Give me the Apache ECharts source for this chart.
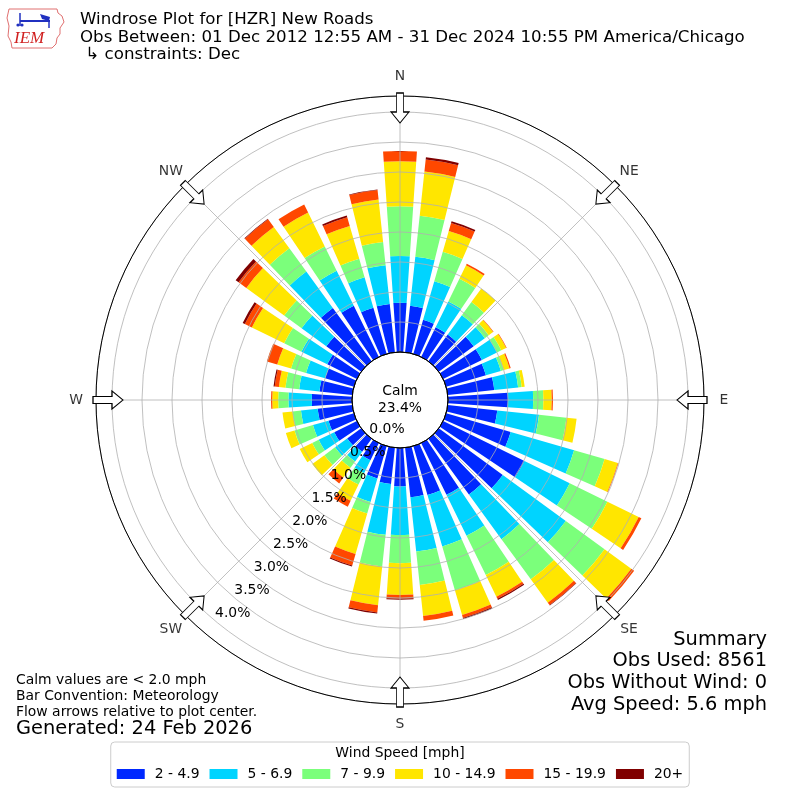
<!DOCTYPE html>
<html>
<head>
<meta charset="utf-8">
<script src="https://cdn.jsdelivr.net/npm/echarts@6/dist/echarts.min.js"></script>
<style>html,body{margin:0;padding:0;background:#fff}#c{width:800px;height:800px}</style>
</head>
<body>
<div id="c"></div>
<script>
// ---------- data ----------
const directions = [0,10,20,30,40,50,60,70,80,90,100,110,120,130,140,150,160,170,180,190,200,210,220,230,240,250,260,270,280,290,300,310,320,330,340,350];
const speedBins = ['2 - 4.9','5 - 6.9','7 - 9.9','10 - 14.9','15 - 19.9','20+'];
const binColors = ['#0028ff','#00d4ff','#7bff7b','#ffe600','#ff4800','#800000'];
const speed_2_5   = [0.82,0.78,0.59,0.55,0.55,0.72,0.72,0.69,0.78,1.00,0.83,1.12,1.51,1.32,1.15,0.96,0.85,0.83,0.64,0.61,0.56,0.32,0.27,0.29,0.42,0.44,0.58,0.67,0.55,0.50,0.55,0.72,1.10,0.95,0.80,0.81];
const speed_5_7   = [0.78,0.82,0.67,0.48,0.40,0.23,0.28,0.26,0.40,0.42,0.70,1.10,0.84,1.30,0.92,0.76,0.89,0.91,0.81,0.85,0.41,0.24,0.20,0.25,0.29,0.27,0.28,0.39,0.34,0.33,0.48,0.51,0.75,0.65,0.53,0.65];
const speed_7_10  = [0.83,0.69,0.51,0.42,0.27,0.08,0.08,0.05,0.06,0.17,0.46,0.53,0.70,0.80,0.83,0.73,0.76,0.56,0.47,0.53,0.20,0.21,0.13,0.22,0.12,0.32,0.14,0.17,0.23,0.26,0.32,0.36,0.48,0.45,0.32,0.39];
const speed_10_15 = [0.75,0.74,0.36,0.25,0.28,0.09,0.09,0.10,0.05,0.14,0.17,0.23,0.58,0.55,0.48,0.40,0.43,0.52,0.53,0.65,0.70,0.30,0.20,0.25,0.23,0.15,0.17,0.10,0.11,0.24,0.60,0.78,0.44,0.63,0.57,0.71];
const speed_15_20 = [0.17,0.20,0.14,0.03,0.00,0.01,0.01,0.02,0.00,0.02,0.00,0.01,0.05,0.06,0.05,0.04,0.05,0.08,0.06,0.12,0.20,0.11,0.12,0.00,0.00,0.00,0.00,0.02,0.07,0.18,0.13,0.16,0.16,0.15,0.15,0.16];
const speed_20up  = [0.00,0.04,0.03,0.00,0.00,0.00,0.00,0.00,0.00,0.00,0.00,0.00,0.00,0.00,0.01,0.02,0.02,0.00,0.02,0.02,0.02,0.00,0.00,0.00,0.00,0.00,0.00,0.00,0.02,0.00,0.04,0.06,0.01,0.00,0.03,0.01];
const radialTicks = [0,0.5,1.0,1.5,2.0,2.5,3.0,3.5,4.0];
const compassLabels = ['N','NE','E','SE','S','SW','W','NW'];
const compassAngles = [0,45,90,135,180,225,270,315];
const calmPct = 23.4;
const obsUsed = 8561, obsNoWind = 0, avgSpeed = 5.6;

// ---------- layout ----------
const FONT = 'DejaVu Sans';
const RMAX = 256 / 60;          // axis max so that 0..4.0% spans 48..288 px
const ARROW_R = 244 / 60;       // arrow centre radius (value units)
const seriesData = [speed_2_5, speed_5_7, speed_7_10, speed_10_15, speed_15_20, speed_20up];

const chart = echarts.init(document.getElementById('c'), null, {renderer: 'canvas'});

const barSeries = speedBins.map((name, i) => ({
  name: name,
  type: 'bar',
  coordinateSystem: 'polar',
  polarIndex: 0,
  stack: 'wind',
  barCategoryGap: '22%',
  itemStyle: {color: binColors[i]},
  data: seriesData[i],
  z: 2,
  silent: true
}));

const hidden = {axisLine:{show:false}, axisTick:{show:false}, axisLabel:{show:false}, splitLine:{show:false}};

const text = (x, y, t, size, align, extra) => Object.assign({
  type: 'text', x: x, y: y, silent: true,
  style: {text: t, fontFamily: FONT, fontSize: size, fill: '#000', align: align || 'left', verticalAlign: 'middle'}
}, extra || {});

const option = {
  animation: false,
  backgroundColor: '#fff',
  polar: [
    {center: [400, 400], radius: [48, 304]},     // bars
    {center: [400, 400], radius: [48, 304]},     // grid
    {center: [387, 429.5], radius: [0, 256]},    // radial tick labels
    {center: [400, 400], radius: [0, 48]}        // calm circle
  ],
  angleAxis: [
    Object.assign({polarIndex: 0, type: 'category', data: directions, startAngle: 95, clockwise: true}, hidden),
    {polarIndex: 1, type: 'value', min: 0, max: 360, interval: 45, startAngle: 90, clockwise: true, z: 10,
     axisLine: {show: true, lineStyle: {color: '#000', width: 1}},
     axisTick: {show: false}, axisLabel: {show: false},
     splitLine: {show: true, lineStyle: {color: '#b0b0b0', width: 0.8}}},
    Object.assign({polarIndex: 2, type: 'value', min: 0, max: 360, startAngle: 230, clockwise: true}, hidden),
    {polarIndex: 3, type: 'value', min: 0, max: 360, startAngle: 90, z: 11,
     axisLine: {show: true, lineStyle: {color: '#000', width: 1}},
     axisTick: {show: false}, axisLabel: {show: false}, splitLine: {show: false}}
  ],
  radiusAxis: [
    Object.assign({polarIndex: 0, type: 'value', min: 0, max: RMAX}, hidden),
    {polarIndex: 1, type: 'value', min: 0, max: RMAX, interval: 0.5, z: 10,
     axisLine: {show: false}, axisTick: {show: false}, axisLabel: {show: false},
     splitLine: {show: true, lineStyle: {color: '#b0b0b0', width: 0.8}}},
    {polarIndex: 2, type: 'value', min: 0, max: RMAX, interval: 0.5, z: 12,
     axisLine: {show: false}, axisTick: {show: false}, splitLine: {show: false},
     axisLabel: {show: true, margin: 0, align: 'center', verticalAlign: 'middle',
       fontFamily: FONT, fontSize: 13.9, color: '#000',
       formatter: v => {
         const t = radialTicks.find(k => Math.abs(k - v) < 1e-6);
         return t === undefined ? '' : t.toFixed(1) + '%';
       }}},
    Object.assign({polarIndex: 3, type: 'value', min: 0, max: 1}, hidden)
  ],
  legend: {
    data: speedBins, left: 'center', top: 742, orient: 'horizontal',
    icon: 'rect', itemWidth: 28, itemHeight: 10, itemGap: 10,
    padding: [25, 6, 6, 6], borderColor: '#cccccc', borderWidth: 1, borderRadius: 4,
    selectedMode: false,
    textStyle: {fontFamily: FONT, fontSize: 13.9, color: '#000', padding: [0, 0, 0, 5]}
  },
  series: barSeries.concat([
    {type: 'scatter', coordinateSystem: 'polar', polarIndex: 1, z: 20, silent: true,
     symbol: 'path://M-3.5,0L3.5,0L3.5,19L9,19L0,30L-9,19L-3.5,19Z', symbolSize: [18, 30],
     itemStyle: {color: '#fff', borderColor: '#000', borderWidth: 1, opacity: 1},
     data: compassAngles.map(a => ({value: [ARROW_R, a], symbolRotate: -a}))},
    {type: 'scatter', coordinateSystem: 'polar', polarIndex: 1, z: 21, silent: true,
     symbol: 'circle', symbolSize: 1, itemStyle: {color: 'rgba(0,0,0,0)'},
     data: compassAngles.map((a, i) => ({
       value: [ARROW_R, a],
       label: {show: true, position: 'inside', formatter: compassLabels[i],
         offset: [32 * Math.sin(a * Math.PI / 180), -32 * Math.cos(a * Math.PI / 180)],
         fontFamily: FONT, fontSize: 13.9, color: '#000'}
     }))}
  ]),
  graphic: [
    // IEM logo (simplified)
    {type: 'polyline', silent: true, shape: {points: [[9,9],[57,9],[58,13],[62,16],[64,22],[60,28],[60,34],[57,38],[56,44],[52,48],[12,48],[11,42],[8,36],[9,26],[7,18],[9,9]]},
     style: {stroke: '#e07070', lineWidth: 1, fill: null}},
    {type: 'line', silent: true, shape: {x1: 20, y1: 13, x2: 20, y2: 26}, style: {stroke: '#2030c0', lineWidth: 1.5}},
    {type: 'line', silent: true, shape: {x1: 20, y1: 21, x2: 50, y2: 21}, style: {stroke: '#2030c0', lineWidth: 2}},
    {type: 'polygon', silent: true, shape: {points: [[40,14],[50,17],[49,21],[42,19]]}, style: {fill: '#2030c0'}},
    {type: 'line', silent: true, shape: {x1: 49, y1: 21, x2: 49, y2: 28}, style: {stroke: '#2030c0', lineWidth: 1.5}},
    {type: 'circle', silent: true, shape: {cx: 22, cy: 25, r: 1.6}, style: {fill: '#2030c0'}},
    {type: 'circle', silent: true, shape: {cx: 18, cy: 25, r: 1.6}, style: {fill: '#2030c0'}},
    {type: 'text', x: 14, y: 39, silent: true, style: {text: 'IEM', fontFamily: 'Liberation Serif', fontStyle: 'italic', fontSize: 17, fill: '#d02020', align: 'left', verticalAlign: 'middle'}},
    // titles
    text(80, 20, 'Windrose Plot for [HZR] New Roads', 16.67),
    text(80, 38, 'Obs Between: 01 Dec 2012 12:55 AM - 31 Dec 2024 10:55 PM America/Chicago', 16.67),
    text(80, 55, ' \u21b3 constraints: Dec', 16.67),
    // calm
    {type: 'text', x: 400, y: 400, silent: true, z: 30,
     style: {text: 'Calm\n' + calmPct.toFixed(1) + '%', fontFamily: FONT, fontSize: 13.9, lineHeight: 17, fill: '#000', align: 'center', verticalAlign: 'middle'}},
    // summary
    text(767, 640, 'Summary', 19.4, 'right'),
    text(767, 661, 'Obs Used: ' + obsUsed, 19.4, 'right'),
    text(767, 683, 'Obs Without Wind: ' + obsNoWind, 19.4, 'right'),
    text(767, 705, 'Avg Speed: ' + avgSpeed.toFixed(1) + ' mph', 19.4, 'right'),
    // notes
    text(16, 680, 'Calm values are < 2.0 mph', 13.9),
    text(16, 696, 'Bar Convention: Meteorology', 13.9),
    text(16, 712, 'Flow arrows relative to plot center.', 13.9),
    text(16, 729, 'Generated: 24 Feb 2026', 19.4),
    // legend title
    {type: 'text', x: 400, y: 753, silent: true, z: 30,
     style: {text: 'Wind Speed [mph]', fontFamily: FONT, fontSize: 13.9, fill: '#000', align: 'center', verticalAlign: 'middle'}}
  ]
};
chart.setOption(option);
</script>
</body>
</html>
